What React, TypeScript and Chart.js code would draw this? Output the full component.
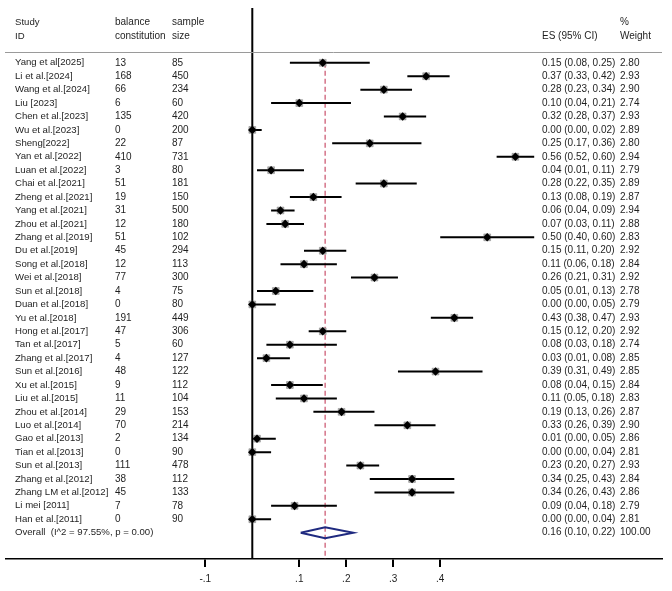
import React, { useEffect, useRef } from "react";
import { Chart, registerables } from "chart.js";

Chart.register(...registerables);

const studies = [
  "Yang et al[2025]", "Li et al.[2024]", "Wang et al.[2024]", "Liu [2023]", "Chen et al.[2023]",
  "Wu et al.[2023]", "Sheng[2022]", "Yan et al.[2022]", "Luan et al.[2022]", "Chai et al.[2021]",
  "Zheng et al.[2021]", "Yang et al.[2021]", "Zhou et al.[2021]", "Zhang et al.[2019]", "Du et al.[2019]",
  "Song et al.[2018]", "Wei et al.[2018]", "Sun et al.[2018]", "Duan et al.[2018]", "Yu et al.[2018]",
  "Hong et al.[2017]", "Tan et al.[2017]", "Zhang et al.[2017]", "Sun et al.[2016]", "Xu et al.[2015]",
  "Liu et al.[2015]", "Zhou et al.[2014]", "Luo et al.[2014]", "Gao et al.[2013]", "Tian et al.[2013]",
  "Sun et al.[2013]", "Zhang et al.[2012]", "Zhang LM et al.[2012]", "Li mei [2011]", "Han et al.[2011]",
];
const balance = [13, 168, 66, 6, 135, 0, 22, 410, 3, 51, 19, 31, 12, 51, 45, 12, 77, 4, 0, 191, 47, 5, 4, 48, 9, 11, 29, 70, 2, 0, 111, 38, 45, 7, 0];
const sampleSize = [85, 450, 234, 60, 420, 200, 87, 731, 80, 181, 150, 500, 180, 102, 294, 113, 300, 75, 80, 449, 306, 60, 127, 122, 112, 104, 153, 214, 134, 90, 478, 112, 133, 78, 90];
const es = [0.15, 0.37, 0.28, 0.10, 0.32, 0.00, 0.25, 0.56, 0.04, 0.28, 0.13, 0.06, 0.07, 0.50, 0.15, 0.11, 0.26, 0.05, 0.00, 0.43, 0.15, 0.08, 0.03, 0.39, 0.08, 0.11, 0.19, 0.33, 0.01, 0.00, 0.23, 0.34, 0.34, 0.09, 0.00];
const ciLow = [0.08, 0.33, 0.23, 0.04, 0.28, 0.00, 0.17, 0.52, 0.01, 0.22, 0.08, 0.04, 0.03, 0.40, 0.11, 0.06, 0.21, 0.01, 0.00, 0.38, 0.12, 0.03, 0.01, 0.31, 0.04, 0.05, 0.13, 0.26, 0.00, 0.00, 0.20, 0.25, 0.26, 0.04, 0.00];
const ciHigh = [0.25, 0.42, 0.34, 0.21, 0.37, 0.02, 0.36, 0.60, 0.11, 0.35, 0.19, 0.09, 0.11, 0.60, 0.20, 0.18, 0.31, 0.13, 0.05, 0.47, 0.20, 0.18, 0.08, 0.49, 0.15, 0.18, 0.26, 0.39, 0.05, 0.04, 0.27, 0.43, 0.43, 0.18, 0.04];
const weights = ["2.80", "2.93", "2.90", "2.74", "2.93", "2.89", "2.80", "2.94", "2.79", "2.89", "2.87", "2.94", "2.88", "2.83", "2.92", "2.84", "2.92", "2.78", "2.79", "2.93", "2.92", "2.74", "2.85", "2.85", "2.84", "2.83", "2.87", "2.90", "2.86", "2.81", "2.93", "2.84", "2.86", "2.79", "2.81"];

const overallLabel = "Overall  (I^2 = 97.55%, p = 0.00)";
const overallES = 0.155;
const overallLow = 0.103;
const overallHigh = 0.215;
const overallText = "0.16 (0.10, 0.22)";
const overallWeight = "100.00";

const xTicks = [-0.1, 0.1, 0.2, 0.3, 0.4];
const xTickLabels = ["-.1", ".1", ".2", ".3", ".4"];

const fmt = (v: number) => v.toFixed(2);

export default function App() {
  const ref = useRef<HTMLCanvasElement | null>(null);

  useEffect(() => {
    document.body.style.margin = "0";
    const canvas = ref.current;
    if (!canvas) return;

    const n = studies.length;
    const rows = studies.map((_, i) => i + 1);
    const overallRow = n + 1;
    const yMin = -3.08;
    const yMax = 37.96;

    const ciData: any[] = [];
    rows.forEach((r, i) => {
      ciData.push({ x: ciLow[i], y: r });
      ciData.push({ x: ciHigh[i], y: r });
      ciData.push({ x: NaN, y: NaN });
    });

    const h = 0.41;
    const diamond = [
      { x: overallLow, y: overallRow },
      { x: overallES, y: overallRow - h },
      { x: overallHigh, y: overallRow },
      { x: overallES, y: overallRow + h },
      { x: overallLow, y: overallRow },
    ];

    const font = "Arial, 'Liberation Sans', sans-serif";
    const textPlugin = {
      id: "forestText",
      afterDraw(chart: any) {
        const ctx = chart.ctx;
        const ys = chart.scales.y;
        ctx.save();
        ctx.fillStyle = "#1e1e1e";
        ctx.textBaseline = "middle";
        ctx.textAlign = "left";
        const yh1 = ys.getPixelForValue(-2);
        const yh2 = ys.getPixelForValue(-1);
        const nameFont = `9.6px ${font}`;
        const numFont = `10px ${font}`;
        ctx.font = nameFont;
        ctx.fillText("Study", 15, yh1);
        ctx.fillText("ID", 15, yh2);
        ctx.font = numFont;
        ctx.fillText("balance", 115, yh1);
        ctx.fillText("constitution", 115, yh2);
        ctx.fillText("sample", 172, yh1);
        ctx.fillText("size", 172, yh2);
        ctx.fillText("ES (95% CI)", 542, yh2);
        ctx.fillText("%", 620, yh1);
        ctx.fillText("Weight", 620, yh2);
        rows.forEach((r, i) => {
          const y = ys.getPixelForValue(r);
          ctx.font = nameFont;
          ctx.fillText(studies[i], 15, y);
          ctx.font = numFont;
          ctx.fillText(String(balance[i]), 115, y);
          ctx.fillText(String(sampleSize[i]), 172, y);
          ctx.fillText(`${fmt(es[i])} (${fmt(ciLow[i])}, ${fmt(ciHigh[i])})`, 542, y);
          ctx.fillText(weights[i], 620, y);
        });
        const yo = ys.getPixelForValue(overallRow);
        ctx.font = nameFont;
        ctx.fillText(overallLabel, 15, yo);
        ctx.font = numFont;
        ctx.fillText(overallText, 542, yo);
        ctx.fillText(overallWeight, 620, yo);
        // separator under header
        const ySep = Math.round(ys.getPixelForValue(0.2)) + 0.5;
        ctx.strokeStyle = "#9a9a9a";
        ctx.lineWidth = 1;
        ctx.beginPath();
        ctx.moveTo(5, ySep);
        ctx.lineTo(662, ySep);
        ctx.stroke();
        ctx.restore();
      },
    };

    const chart = new Chart(canvas, {
      type: "scatter",
      data: {
        datasets: [
          {
            type: "line",
            label: "zero",
            data: [{ x: 0, y: yMin }, { x: 0, y: yMax }],
            borderColor: "#000",
            borderWidth: 2,
            pointRadius: 0,
            order: 5,
          },
          {
            type: "line",
            label: "pooled",
            data: [{ x: overallES, y: 1 }, { x: overallES, y: yMax }],
            borderColor: "#c94f6a",
            borderWidth: 1.2,
            borderDash: [5, 3],
            pointRadius: 0,
            order: 4,
          },
          {
            type: "line",
            label: "ci",
            data: ciData,
            borderColor: "#000",
            borderWidth: 2,
            pointRadius: 0,
            spanGaps: false,
            order: 3,
          },
          {
            label: "weight",
            data: rows.map((r, i) => ({ x: es[i], y: r })),
            pointStyle: "rect",
            pointRadius: 4.8,
            backgroundColor: "rgba(175,175,175,0.95)",
            borderColor: "rgba(120,120,120,0.8)",
            borderWidth: 0.6,
            order: 2,
          },
          {
            label: "es",
            data: rows.map((r, i) => ({ x: es[i], y: r })),
            pointStyle: "rectRot",
            pointRadius: 4.3,
            backgroundColor: "#000",
            borderColor: "#000",
            borderWidth: 0,
            order: 1,
          },
          {
            type: "line",
            label: "overall",
            data: diamond,
            borderColor: "#1f2a80",
            borderWidth: 2,
            pointRadius: 0,
            fill: false,
            order: 0,
          },
        ],
      },
      options: {
        animation: false,
        responsive: false,
        maintainAspectRatio: false,
        layout: { padding: { left: 5, right: 10, top: 8, bottom: 0 } },
        plugins: { legend: { display: false }, tooltip: { enabled: false } },
        scales: {
          x: {
            type: "linear",
            min: -0.5255,
            max: 0.872,
            afterBuildTicks: (axis: any) => {
              axis.ticks = xTicks.map((v) => ({ value: v }));
            },
            grid: {
              drawOnChartArea: false,
              drawTicks: true,
              tickLength: 8,
              color: "#000",
              lineWidth: 2,
            },
            border: { display: true, color: "#000", width: 1.5 },
            ticks: {
              autoSkip: false,
              maxRotation: 0,
              padding: 6,
              color: "#1e1e1e",
              font: { size: 10, family: font },
              callback: (v: any) => {
                const idx = xTicks.findIndex((t) => Math.abs(t - Number(v)) < 1e-9);
                return idx >= 0 ? xTickLabels[idx] : "";
              },
            },
          },
          y: {
            type: "linear",
            display: false,
            reverse: true,
            min: yMin,
            max: yMax,
          },
        },
      },
      plugins: [textPlugin],
    } as any);

    return () => chart.destroy();
  }, []);

  return (
    <div style={{ width: 672, height: 591, background: "#fff" }}>
      <canvas ref={ref} width={672} height={591} style={{ display: "block", width: 672, height: 591 }} />
    </div>
  );
}
